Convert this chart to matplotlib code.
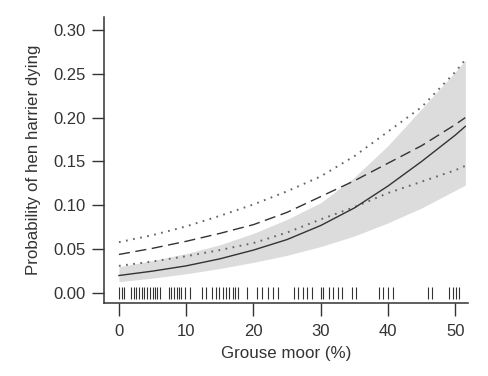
import matplotlib.pyplot as plt

plt.rcParams['font.family'] = ['Liberation Sans', 'DejaVu Sans']

# grouse moor cover (%) where curves were read
moor = [0, 5, 10, 15, 20, 25, 30, 35, 40, 45, 50, 51.5]

# fitted probability (solid) and the two other model fits (dashed / dotted)
p_fit = [0.020, 0.025, 0.031, 0.039, 0.049, 0.061, 0.077, 0.097, 0.122, 0.150, 0.180, 0.190]
p_dash = [0.044, 0.051, 0.059, 0.068, 0.078, 0.092, 0.110, 0.128, 0.148, 0.168, 0.192, 0.200]
p_dot_hi = [0.058, 0.066, 0.076, 0.088, 0.101, 0.116, 0.133, 0.156, 0.184, 0.212, 0.252, 0.266]
p_dot_lo = [0.031, 0.036, 0.042, 0.049, 0.057, 0.069, 0.084, 0.098, 0.114, 0.127, 0.140, 0.145]

# confidence band (grey)
band_hi = [0.030, 0.037, 0.045, 0.055, 0.068, 0.084, 0.103, 0.132, 0.168, 0.210, 0.252, 0.265]
band_lo = [0.013, 0.017, 0.022, 0.028, 0.035, 0.043, 0.053, 0.065, 0.080, 0.097, 0.117, 0.123]

# observed grouse moor values (rug)
rug = [0, 0.4, 0.8, 1.8, 2.2, 2.6, 3.0, 3.4, 3.8, 4.2, 4.6, 5.0, 5.3, 5.7, 6.1,
       7.4, 7.8, 8.2, 8.6, 9.0, 9.3, 9.8, 10.5,
       12.3, 13.0, 13.9, 14.4, 14.9, 15.4, 15.9, 16.3, 16.9, 17.3, 17.7, 19.1,
       20.6, 21.3, 22.1, 22.9, 23.6,
       26.0, 26.6, 27.3, 28.0, 28.7, 30.0, 30.4, 31.2, 31.9, 32.5, 33.2, 34.7, 35.3,
       38.7, 39.2, 40.0, 40.8, 46.0, 46.6, 49.1, 49.6, 50.1, 50.6]

fig = plt.figure(figsize=(4.88, 3.76), dpi=100)
ax = fig.add_axes([0.213, 0.194, 0.746, 0.761])

ax.fill_between(moor, band_lo, band_hi, color='#dcdcdc', lw=0)
ax.plot(moor, p_dot_hi, color='#666666', lw=1.4, linestyle=(0, (0.9, 2.8)))
ax.plot(moor, p_dot_lo, color='#666666', lw=1.4, linestyle=(0, (0.9, 2.8)))
ax.plot(moor, p_dash, color='#333333', lw=1.0, linestyle=(0, (8, 4)))
ax.plot(moor, p_fit, color='#333333', lw=1.0)
ax.plot(rug, [0] * len(rug), linestyle='none', marker='|', markersize=8,
        markeredgewidth=0.8, color='#333333')

ax.set_xlim(-2.23, 51.9)
ax.set_ylim(-0.0114, 0.3148)
ax.set_xticks([0, 10, 20, 30, 40, 50])
ax.set_yticks([0, 0.05, 0.10, 0.15, 0.20, 0.25, 0.30])
ax.set_yticklabels(['0.00', '0.05', '0.10', '0.15', '0.20', '0.25', '0.30'])

for s in ['top', 'right']:
    ax.spines[s].set_visible(False)
for s in ['left', 'bottom']:
    ax.spines[s].set_color('#333333')
    ax.spines[s].set_linewidth(1.1)

ax.tick_params(axis='both', colors='#333333', labelcolor='#333333', labelsize=12,
               length=9, width=1.0, direction='out')
ax.tick_params(axis='x', pad=6)
ax.tick_params(axis='y', pad=4)

ax.set_xlabel('Grouse moor (%)', fontsize=12.2, color='#333333', labelpad=5)
ax.set_ylabel('Probability of hen harrier dying', fontsize=12.2, color='#333333', labelpad=9)

fig.savefig('out.png', dpi=100)
